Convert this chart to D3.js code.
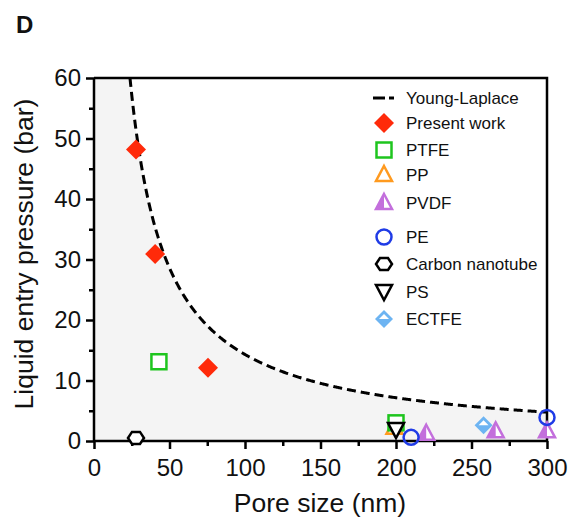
<!DOCTYPE html>
<html>
<head>
<meta charset="utf-8">
<script src="https://cdn.jsdelivr.net/npm/d3@7"></script>
<style>
  body { margin: 0; background: #fff; }
  text { font-family: "Liberation Sans", Arial, sans-serif; fill: #111; }
</style>
</head>
<body>
<svg width="581" height="525"></svg>
<script>
// data
var presentWork = [[27.8, 48.2], [40.5, 30.9], [75.5, 12.1]];
var ptfe = [[43, 13.1], [200, 3.0]];
var pp = [[199, 2.2]];
var pvdf = [[220, 1.2], [266, 1.6], [300, 1.6]];
var pe = [[210, 0.6], [300, 3.9]];
var cnt = [[27.8, 0.5]];
var ps = [[200, 1.8]];
var ectfe = [[258, 2.6]];
var ylK = 1430; // Young-Laplace P = k / d
var xTicks = [0, 50, 100, 150, 200, 250, 300];
var yTicks = [0, 10, 20, 30, 40, 50, 60];

var svg = d3.select("svg");
var pL = 94, pR = 547, pT = 78, pB = 441;

var x = d3.scaleLinear().domain([0, 300]).range([pL, pR]);
var y = d3.scaleLinear().domain([0, 60]).range([pB, pT]);

// curve points
var curve = [];
for (var d = ylK / 60; d <= 300; d += 0.5) curve.push([d, ylK / d]);
curve.push([300, ylK / 300]);

// shaded area under curve
var areaPts = [[0, 60]].concat(curve);
svg.append("path")
   .datum(areaPts)
   .attr("fill", "#f4f4f4")
   .attr("d", d3.area().x(function(p) { return x(p[0]); })
                       .y0(y(0)).y1(function(p) { return y(p[1]); }));

svg.append("path")
   .datum(curve)
   .attr("fill", "none")
   .attr("stroke", "#000")
   .attr("stroke-width", 3)
   .attr("stroke-dasharray", "9,5")
   .attr("d", d3.line().x(function(p) { return x(p[0]); }).y(function(p) { return y(p[1]); }));

// frame top + right
svg.append("path")
   .attr("d", "M" + pL + "," + pT + "H" + pR + "V" + pB)
   .attr("fill", "none").attr("stroke", "#000").attr("stroke-width", 2.5);

// axes
var gx = svg.append("g").attr("transform", "translate(0," + pB + ")")
  .call(d3.axisBottom(x).tickValues(xTicks).tickSize(8).tickPadding(10).tickFormat(d3.format("d")));
var gx2 = svg.append("g").attr("transform", "translate(0," + pB + ")")
  .call(d3.axisBottom(x).tickValues([25, 75, 125, 175, 225, 275]).tickSize(5).tickFormat(""));
var gy = svg.append("g").attr("transform", "translate(" + pL + ",0)")
  .call(d3.axisLeft(y).tickValues(yTicks).tickSize(8).tickPadding(5).tickFormat(d3.format("d")));
var gy2 = svg.append("g").attr("transform", "translate(" + pL + ",0)")
  .call(d3.axisLeft(y).tickValues([5, 15, 25, 35, 45, 55]).tickSize(5).tickFormat(""));
svg.selectAll(".domain, .tick line").attr("stroke", "#000").attr("stroke-width", 2.5);
gx.select(".domain").attr("d", "M" + pL + ",0H" + pR);
gy.select(".domain").attr("d", "M0," + pB + "V" + pT);
gx2.select(".domain").remove();
gy2.select(".domain").remove();
svg.selectAll(".tick text").attr("font-size", 24).attr("fill", "#111")
   .attr("font-family", "Liberation Sans, Arial, sans-serif");

svg.append("text").attr("x", 320).attr("y", 512).attr("text-anchor", "middle")
   .attr("font-size", 26.5).text("Pore size (nm)");
svg.append("text").attr("transform", "translate(33,254) rotate(-90)").attr("text-anchor", "middle")
   .attr("font-size", 26.5).text("Liquid entry pressure (bar)");
svg.append("text").attr("x", 16).attr("y", 33).attr("font-size", 24).attr("font-weight", "bold").text("D");

// marker drawers
function diamond(g, c, s) {
  g.append("path").attr("d", "M0," + (-s) + "L" + s + ",0L0," + s + "L" + (-s) + ",0Z").attr("fill", c);
}
function square(g) {
  g.append("rect").attr("x", -7.5).attr("y", -7.5).attr("width", 15).attr("height", 15)
   .attr("fill", "#fff").attr("stroke", "#1ec51e").attr("stroke-width", 2.5);
}
function triUp(g, c, fill) {
  g.append("path").attr("d", "M0,-9L8,6L-8,6Z").attr("fill", fill).attr("stroke", c).attr("stroke-width", 2.5);
}
function halfTri(g) {
  g.append("path").attr("d", "M0,-9L8,6L-8,6Z").attr("fill", "#fff").attr("stroke", "#c36fdc").attr("stroke-width", 2.5);
  g.append("path").attr("d", "M0,-9L0,6L-8,6Z").attr("fill", "#c36fdc");
}
function circ(g) {
  g.append("circle").attr("r", 7.5).attr("fill", "none").attr("stroke", "#1f3be6").attr("stroke-width", 2.5);
}
function hexa(g) {
  var pts = d3.range(6).map(function(i) { var a = Math.PI / 3 * i; return [8 * Math.cos(a), 7 * Math.sin(a)]; });
  g.append("path").attr("d", "M" + pts.join("L") + "Z").attr("fill", "#fff").attr("stroke", "#000").attr("stroke-width", 2.5);
}
function triDown(g) {
  g.append("path").attr("d", "M-8,-7L8,-7L0,8Z").attr("fill", "#fff").attr("stroke", "#000").attr("stroke-width", 2.5);
}
function halfDiamond(g) {
  g.append("path").attr("d", "M0,-9L9,0L0,9L-9,0Z").attr("fill", "#6db4f2");
  g.append("path").attr("d", "M0,-5L5,0L-5,0Z").attr("fill", "#fff");
}

function plot(data, draw) {
  data.forEach(function(p) {
    var g = svg.append("g").attr("transform", "translate(" + x(p[0]) + "," + y(p[1]) + ")");
    draw(g);
  });
}
plot(pp, function(g) { triUp(g, "#ff9a1f", "#fff"); });
plot(ptfe, square);
plot(presentWork, function(g) { diamond(g, "#ff2a0a", 10); });
plot(pvdf, halfTri);
plot(ectfe, halfDiamond);
plot(ps, triDown);
plot(pe, circ);
plot(cnt, hexa);

// legend
var leg = [
  ["Young-Laplace", 98, function(g) {
     g.append("line").attr("x1", -11).attr("x2", 1).attr("stroke", "#000").attr("stroke-width", 3);
     g.append("line").attr("x1", 5).attr("x2", 10).attr("stroke", "#000").attr("stroke-width", 3); }],
  ["Present work", 123, function(g) { diamond(g, "#ff2a0a", 10); }],
  ["PTFE", 150, square],
  ["PP", 175, function(g) { triUp(g, "#ff9a1f", "#fff"); }],
  ["PVDF", 203, halfTri],
  ["PE", 237, circ],
  ["Carbon nanotube", 264, hexa],
  ["PS", 292, triDown],
  ["ECTFE", 319, halfDiamond]
];
leg.forEach(function(l) {
  var g = svg.append("g").attr("transform", "translate(384," + l[1] + ")");
  l[2](g);
  svg.append("text").attr("x", 406).attr("y", l[1] + 6).attr("font-size", 17).text(l[0]);
});
</script>
</body>
</html>
